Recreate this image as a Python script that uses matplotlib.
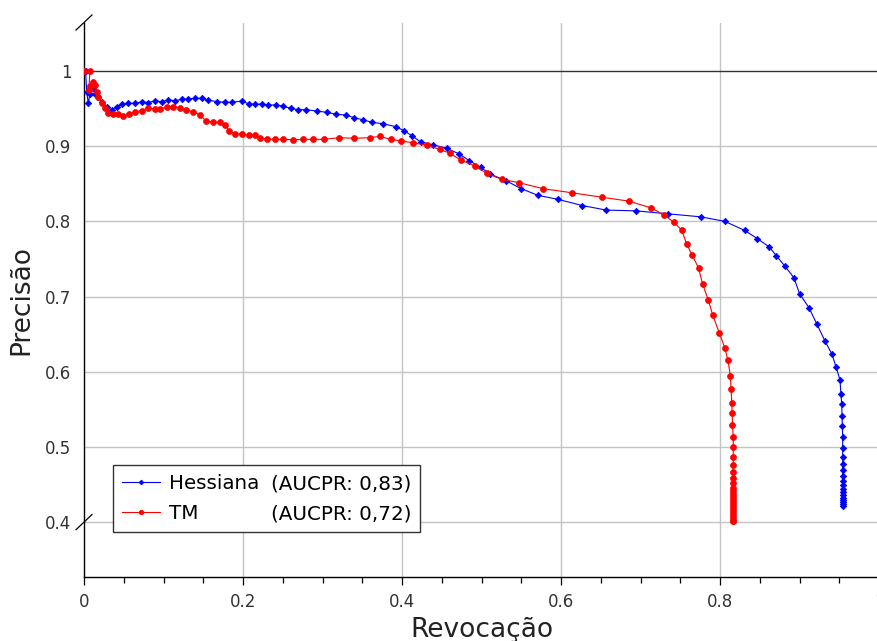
import matplotlib
matplotlib.use("Agg")
import matplotlib.pyplot as plt
import matplotlib.transforms as mtransforms
from matplotlib.lines import Line2D

# ---- data ----
hess_recall = [0.002, 0.0034, 0.0054, 0.0075, 0.011, 0.0138, 0.018, 0.0223, 0.0286, 0.0348,
               0.0411, 0.0474, 0.0557, 0.0642, 0.0726, 0.0809, 0.0893, 0.0977, 0.106, 0.1145,
               0.1229, 0.1312, 0.1396, 0.148, 0.1564, 0.1669, 0.1774, 0.1858, 0.1984, 0.2079,
               0.2151, 0.2235, 0.2318, 0.2415, 0.2507, 0.26, 0.2688, 0.2792, 0.2927, 0.3053,
               0.317, 0.3292, 0.3396, 0.3506, 0.3619, 0.3757, 0.3925, 0.4025, 0.413, 0.4235,
               0.4386, 0.4562, 0.4721, 0.4847, 0.499, 0.5107, 0.5308, 0.5501, 0.5711, 0.5962,
               0.627, 0.657, 0.694, 0.735, 0.776, 0.806, 0.831, 0.847, 0.862, 0.871,
               0.882, 0.893, 0.900, 0.912, 0.922, 0.932, 0.941, 0.946, 0.951, 0.952,
               0.9531, 0.9535, 0.9539, 0.9543, 0.9543, 0.9543, 0.9543, 0.9543, 0.9543, 0.9543,
               0.9543, 0.9543, 0.9543, 0.9543, 0.9543, 0.9543, 0.9543, 0.9543, 0.9543]
hess_precision = [1.0, 0.9725, 0.957, 0.970, 0.977, 0.970, 0.966, 0.959, 0.9525, 0.948,
                  0.9525, 0.9557, 0.957, 0.957, 0.959, 0.958, 0.9605, 0.959, 0.9614, 0.9605,
                  0.9624, 0.9628, 0.9637, 0.9637, 0.9614, 0.9592, 0.9584, 0.9584, 0.960, 0.956,
                  0.9557, 0.956, 0.9548, 0.9548, 0.953, 0.9504, 0.9485, 0.9485, 0.9468, 0.945,
                  0.9424, 0.9415, 0.9379, 0.9352, 0.9318, 0.9299, 0.9259, 0.9206, 0.9135, 0.9055,
                  0.902, 0.8972, 0.8896, 0.8807, 0.8719, 0.863, 0.8541, 0.8434, 0.8346, 0.8293,
                  0.821, 0.815, 0.814, 0.810, 0.806, 0.800, 0.788, 0.777, 0.766, 0.754,
                  0.740, 0.725, 0.704, 0.685, 0.663, 0.641, 0.623, 0.606, 0.589, 0.571,
                  0.557, 0.541, 0.528, 0.513, 0.499, 0.487, 0.477, 0.469, 0.461, 0.455,
                  0.449, 0.444, 0.440, 0.436, 0.432, 0.429, 0.427, 0.424, 0.421]

tm_recall = [0.0, 0.0075, 0.006, 0.008, 0.0117, 0.0138, 0.016, 0.018, 0.0223, 0.0264,
             0.0306, 0.0369, 0.0431, 0.0494, 0.057, 0.0642, 0.0726, 0.0809, 0.0893, 0.0956,
             0.104, 0.1123, 0.1208, 0.1283, 0.1375, 0.1459, 0.1535, 0.1626, 0.1711, 0.1774,
             0.1828, 0.1899, 0.1984, 0.2079, 0.2151, 0.2214, 0.2298, 0.2403, 0.2507, 0.2633,
             0.2759, 0.2884, 0.3023, 0.3211, 0.34, 0.3597, 0.3723, 0.3858, 0.3984, 0.4142,
             0.4311, 0.4478, 0.4604, 0.4738, 0.4918, 0.5065, 0.5254, 0.5475, 0.5777, 0.614,
             0.652, 0.685, 0.713, 0.729, 0.742, 0.752, 0.758, 0.765, 0.773, 0.778,
             0.785, 0.791, 0.799, 0.806, 0.810, 0.813, 0.814, 0.8148, 0.8153, 0.8157,
             0.8167, 0.8167, 0.8167, 0.8167, 0.8167, 0.8167, 0.8167, 0.8167, 0.8167, 0.8167,
             0.8167, 0.8167, 0.8167, 0.8167, 0.8167, 0.8167, 0.8167, 0.8167, 0.8167, 0.8167]
tm_precision = [1.0, 1.0, 0.975, 0.980, 0.9858, 0.9814, 0.9725, 0.9658, 0.957, 0.9504,
                0.9445, 0.9428, 0.9424, 0.9401, 0.9428, 0.9459, 0.9472, 0.9512, 0.949, 0.949,
                0.9525, 0.9525, 0.9512, 0.9481, 0.9459, 0.9415, 0.9335, 0.9318, 0.9318, 0.9282,
                0.9202, 0.9166, 0.9158, 0.9149, 0.9149, 0.9113, 0.9095, 0.9091, 0.9091, 0.9086,
                0.9091, 0.9091, 0.9091, 0.9113, 0.9105, 0.9113, 0.9131, 0.9091, 0.9069, 0.9046,
                0.9012, 0.8958, 0.8905, 0.8816, 0.8736, 0.8639, 0.8559, 0.8514, 0.8434, 0.838,
                0.832, 0.827, 0.818, 0.809, 0.799, 0.788, 0.770, 0.755, 0.738, 0.717,
                0.696, 0.675, 0.652, 0.632, 0.615, 0.595, 0.577, 0.559, 0.545, 0.529,
                0.513, 0.500, 0.486, 0.476, 0.467, 0.459, 0.452, 0.446, 0.441, 0.437,
                0.433, 0.429, 0.425, 0.421, 0.417, 0.413, 0.409, 0.405, 0.401, 0.401]

series_names = ["Hessiana", "TM"]
series_auc = ["(AUCPR: 0,83)", "(AUCPR: 0,72)"]
x_ticks = [0, 0.2, 0.4, 0.6, 0.8, 1.0]
x_tick_labels = ["0", "0.2", "0.4", "0.6", "0.8", "1"]
y_ticks = [0.4, 0.5, 0.6, 0.7, 0.8, 0.9, 1.0]
y_tick_labels = ["0.4", "0.5", "0.6", "0.7", "0.8", "0.9", "1"]

plt.rcParams['font.family'] = ['DejaVu Sans']

fig = plt.figure(figsize=(8.77, 6.41), dpi=100)
W, H = 877, 641
ax_l, ax_r, ax_b, ax_t = 84, 879, 641 - 577, 641 - 22.5
ax = fig.add_axes([ax_l / W, ax_b / H, (ax_r - ax_l) / W, (ax_t - ax_b) / H])

ax.set_xlim(0, 1.0)
ax.set_ylim(0.327, 1.0645)

# grid
for xv in x_ticks[1:-1]:
    ax.axvline(xv, color='#c4c4c4', lw=1.0, zorder=0)
for yv in y_ticks[:-1]:
    ax.axhline(yv, color='#c4c4c4', lw=1.0, zorder=0)
ax.axhline(1.0, color='#333333', lw=1.0, zorder=0.5)

l1, = ax.plot(hess_recall, hess_precision, color='#0000ff', lw=0.8, marker='D',
              markersize=3.3, markeredgewidth=0.5, zorder=3)
l2, = ax.plot(tm_recall, tm_precision, color='#ff0000', lw=0.8, marker='o',
              markersize=4.3, markeredgewidth=0.5, zorder=4)

for side in ['top', 'right']:
    ax.spines[side].set_visible(False)
ax.spines['left'].set_color('black')
ax.spines['bottom'].set_color('black')
ax.spines['left'].set_linewidth(1.0)
ax.spines['bottom'].set_linewidth(1.0)

ax.set_xticks(x_ticks)
ax.set_xticklabels(x_tick_labels)
ax.set_xticks([0.05 * i for i in range(21)], minor=True)
ax.set_yticks(y_ticks)
ax.set_yticklabels(y_tick_labels)
ax.tick_params(axis='x', which='major', direction='out', length=5.5, width=0.9,
               labelsize=12, labelcolor='#333333', pad=6)
ax.tick_params(axis='x', which='minor', direction='out', length=4, width=0.9)
ax.tick_params(axis='y', which='both', length=0, labelsize=12, labelcolor='#333333', pad=9)

ax.set_xlabel("Revocação", fontsize=19, color='#222222', labelpad=4)
ax.set_ylabel("Precisão", fontsize=19, color='#222222', labelpad=8)

# axis break marks
trans = mtransforms.blended_transform_factory(ax.transAxes, ax.transData)
for yb in [0.4, 1.0645]:
    ax.plot([-0.01, 0.01], [yb - 0.01, yb + 0.01], color='black', lw=0.9,
            transform=trans, clip_on=False, zorder=5)

# legend
blank = Line2D([], [], alpha=0)
leg = ax.legend([l1, l2, blank, blank],
                [series_names[0], series_names[1], series_auc[0], series_auc[1]],
                ncol=2, loc='lower left', bbox_to_anchor=(0.0365, 0.0812),
                borderaxespad=0, fontsize=14.3, frameon=True, fancybox=False,
                edgecolor='#333333', framealpha=1, handlelength=1.9,
                handletextpad=0.45, columnspacing=-1.75, borderpad=0.45,
                labelspacing=0.55, numpoints=1, markerscale=0.75)
leg.get_frame().set_linewidth(1.0)

fig.savefig("out.png", dpi=100)
